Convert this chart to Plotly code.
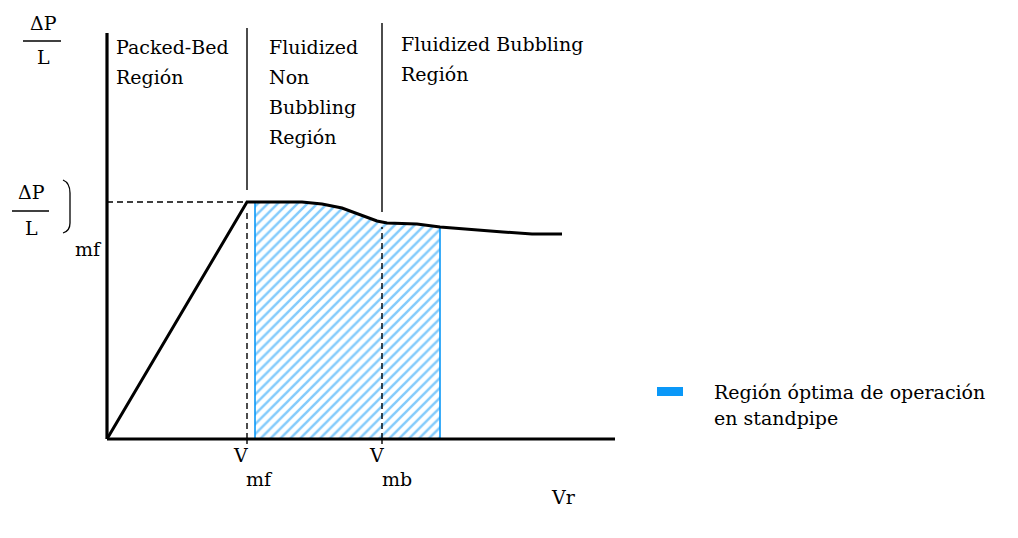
import numpy as np
import plotly.graph_objects as go

# ---- data (chart units: velocity on x, pressure drop per length on y) ----
curve_x = [0.0, 14.0, 19.5, 21.5, 23.5, 25.5, 27.0, 28.0, 31.0, 33.3, 36.6, 39.6, 42.5, 45.5]
curve_y = [0.0, 23.7, 23.7, 23.5, 23.1, 22.4, 21.8, 21.6, 21.5, 21.2, 20.9, 20.7, 20.5, 20.5]
v_mf = 14.0
v_mb = 27.5
dp_mf = 23.7
shade_range = [14.8, 33.3]
axis_x_end = 50.8
axis_y_top = 40.6
region_labels = [
    (["Packed-Bed", "Región"], 0.7, 39.2),
    (["Fluidized", "Non", "Bubbling", "Región"], 16.0, 39.2),
    (["Fluidized Bubbling", "Región"], 29.2, 39.5),
]
legend_text = ["Región óptima de operación", "en standpipe"]

FONT = "DejaVu Serif"
FS = 19
BLUE = "#0a98f8"

# page has an 8px body margin: figure pixel = reference pixel - 8
W, H, OFF = 1010, 530, 8
def px_x(p):
    return (p - OFF) / W
def px_y(p):
    return 1 - (p - OFF) / H

fig = go.Figure()

# shaded optimum region (hatched)
xs_in = [x for x in curve_x if shade_range[0] < x < shade_range[1]]
top_x = [shade_range[0]] + xs_in + [shade_range[1]]
top_y = list(np.interp(top_x, curve_x, curve_y))
poly_x = top_x + [shade_range[1], shade_range[0], shade_range[0]]
poly_y = top_y + [0, 0, top_y[0]]
fig.add_trace(go.Scatter(
    x=poly_x, y=poly_y, mode="lines", fill="toself",
    line=dict(width=0, color=BLUE),
    fillcolor="white",
    fillpattern=dict(shape="/", fgcolor=BLUE, bgcolor="white", size=7, solidity=0.36),
    hoverinfo="skip", showlegend=False))
for xe in shade_range:
    fig.add_trace(go.Scatter(x=[xe, xe], y=[0, float(np.interp(xe, curve_x, curve_y))],
                             mode="lines", line=dict(color=BLUE, width=1.6),
                             hoverinfo="skip", showlegend=False))

# dashed guide lines
dash = "6px,4px"
fig.add_trace(go.Scatter(x=[0, v_mf], y=[dp_mf, dp_mf], mode="lines",
                         line=dict(color="black", width=1.4, dash=dash), showlegend=False))
fig.add_trace(go.Scatter(x=[v_mf, v_mf], y=[0, dp_mf - 0.7], mode="lines",
                         line=dict(color="black", width=1.4, dash=dash), showlegend=False))
y_mb = float(np.interp(v_mb, curve_x, curve_y))
fig.add_trace(go.Scatter(x=[v_mb, v_mb], y=[0, y_mb - 0.5], mode="lines",
                         line=dict(color="black", width=1.4, dash=dash), showlegend=False))

# solid region separators
fig.add_trace(go.Scatter(x=[v_mf, v_mf], y=[dp_mf + 1.2, 41.1], mode="lines",
                         line=dict(color="black", width=1.4), showlegend=False))
fig.add_trace(go.Scatter(x=[v_mb, v_mb], y=[y_mb + 1.0, 41.6], mode="lines",
                         line=dict(color="black", width=1.4), showlegend=False))

# ticks on x axis
for v in (v_mf, v_mb):
    fig.add_trace(go.Scatter(x=[v, v], y=[0, -0.5], mode="lines",
                             line=dict(color="black", width=1.4), showlegend=False))

# axes
fig.add_trace(go.Scatter(x=[0, axis_x_end], y=[0, 0], mode="lines",
                         line=dict(color="black", width=3.2), showlegend=False))
fig.add_trace(go.Scatter(x=[0, 0], y=[0, axis_y_top], mode="lines",
                         line=dict(color="black", width=3.2), showlegend=False))

# main curve
fig.add_trace(go.Scatter(x=curve_x, y=curve_y, mode="lines",
                         line=dict(color="black", width=3),
                         showlegend=False))

ann = []
def txt(s, x, y, xa="left", xref="x", yref="y"):
    ann.append(dict(text=s, x=x, y=y, xref=xref, yref=yref, xanchor=xa, yanchor="middle",
                    showarrow=False, font=dict(family=FONT, size=FS, color="black")))

# region labels
for lines, x0, y0 in region_labels:
    for i, s in enumerate(lines):
        txt(s, x0, y0 - 3.0 * i)

# y-axis label (fraction)
txt("ΔP", -6.4, 41.6, xa="center")
txt("L", -6.4, 38.2, xa="center")
# mf fraction
txt("ΔP", -7.6, 24.7, xa="center")
txt("L", -7.6, 21.1, xa="center")
txt("mf", -3.4, 19.0, xa="left")

# x labels
txt("V", v_mf - 0.7, -1.6, xa="center")
txt("mf", v_mf - 0.3, -4.0, xa="left")
txt("V", v_mb - 0.6, -1.6, xa="center")
txt("mb", v_mb - 0.2, -4.0, xa="left")
txt("Vr", 45.6, -5.8, xa="center")

# legend text
txt(legend_text[0], px_x(712), px_y(392), xref="paper", yref="paper")
txt(legend_text[1], px_x(712), px_y(418), xref="paper", yref="paper")

shapes = [
    # fraction bars
    dict(type="line", xref="x", yref="y", x0=-8.4, x1=-4.6, y0=39.8, y1=39.8,
         line=dict(color="black", width=1.3)),
    dict(type="line", xref="x", yref="y", x0=-9.5, x1=-5.8, y0=22.8, y1=22.8,
         line=dict(color="black", width=1.3)),
    # bracket
    dict(type="path", xref="x", yref="y",
         path="M -4.4,25.9 Q -3.7,25.6 -3.7,24.6 L -3.7,21.6 Q -3.7,20.8 -4.4,20.6",
         line=dict(color="black", width=1.3)),
    # legend swatch
    dict(type="rect", xref="paper", yref="paper", x0=px_x(657), x1=px_x(683),
         y0=px_y(396), y1=px_y(387), line=dict(width=0), fillcolor=BLUE),
]

fig.update_layout(
    width=W, height=H,
    margin=dict(l=0, r=0, t=0, b=0),
    paper_bgcolor="white", plot_bgcolor="white",
    xaxis=dict(range=[(OFF - 107) / 10, (OFF + W - 107) / 10], visible=False, fixedrange=True),
    yaxis=dict(range=[(439 - OFF - H) / 10, (439 - OFF) / 10], visible=False, fixedrange=True),
    annotations=ann, shapes=shapes, showlegend=False,
)

fig.write_html("out.html")
